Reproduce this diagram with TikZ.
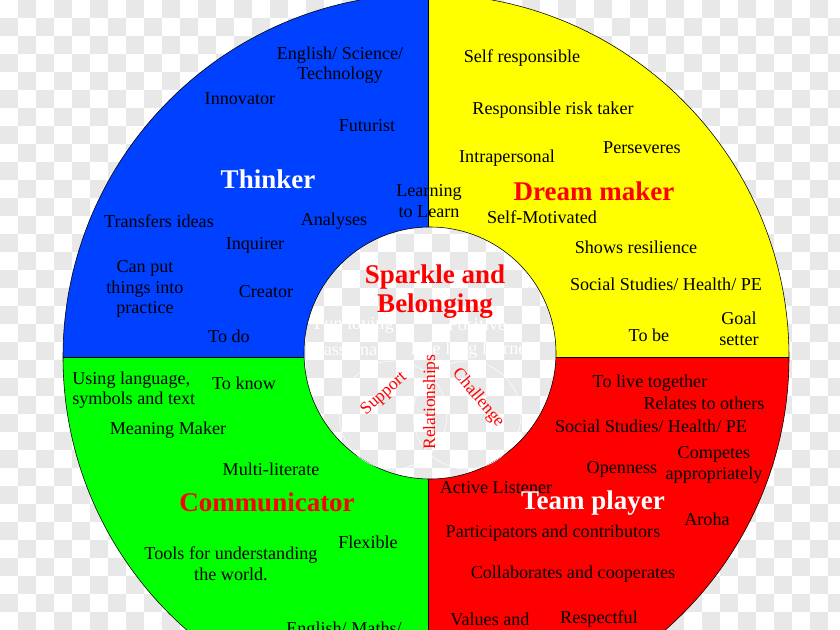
\documentclass[tikz,border=0pt]{standalone}
\usepackage{fontspec}
\setmainfont{Liberation Serif}
\usepackage{tikz}

\definecolor{thinkblue}{RGB}{0,64,255}
\definecolor{dreamyellow}{RGB}{255,255,0}
\definecolor{commgreen}{RGB}{0,255,0}
\definecolor{teamred}{RGB}{255,0,0}
\definecolor{checkgray}{RGB}{232,232,232}

\begin{document}
\begin{tikzpicture}[x=0.025cm,y=-0.025cm,
  txt/.style={font=\fontsize{12.9}{14.6}\selectfont,align=center,inner sep=0pt,yshift=-1.4pt},
  title/.style={font=\fontsize{19.2}{20.5}\selectfont\bfseries,align=center,inner sep=0pt},
  inner/.style={font=\fontsize{12.4}{13}\selectfont,text=teamred,inner sep=0pt},
  faint/.style={font=\fontsize{12.9}{14.6}\selectfont,text=white,inner sep=0pt}]
  \useasboundingbox (0,0) rectangle (840,630);
  \clip (0,0) rectangle (840,630);
  % transparent background
  \fill[white] (0,0) rectangle (840,630);
  \foreach \i in {0,...,46}{
    \foreach \j in {0,...,35}{
      \ifodd\numexpr\i+\j\relax
        \fill[checkgray] (\i*18,\j*18) rectangle +(18,18);
      \fi}}
  % four quarters of the ring
  \begin{scope}
    \clip (0,0) rectangle (428,357);
    \fill[thinkblue,even odd rule] (426,357) circle (363) (430,353) circle (126);
  \end{scope}
  \begin{scope}
    \clip (428,0) rectangle (840,357);
    \fill[dreamyellow,even odd rule] (426,357) circle (363) (430,353) circle (126);
  \end{scope}
  \begin{scope}
    \clip (0,357) rectangle (428,630);
    \fill[commgreen,even odd rule] (426,357) circle (363) (430,353) circle (126);
  \end{scope}
  \begin{scope}
    \clip (428,357) rectangle (840,630);
    \fill[teamred,even odd rule] (426,357) circle (363) (430,353) circle (126);
  \end{scope}
  \draw[thin] (426,357) circle (363);
  \draw[thin] (430,353) circle (126);
  \draw[thin] (428,-10) -- (428,227) (428,479) -- (428,640);
  \draw[thin] (63,357) -- (304,357) (556,357) -- (789,357);
  % faint circles in the middle
  \draw[white,thin] (393,415) circle (54) (467,415) circle (54);

  % Thinker
  \node[txt] (engsci) at (340,63) {English/ Science/\\Technology};
  \node[txt] (innov) at (240,97) {Innovator};
  \node[txt] (futur) at (367,124) {Futurist};
  \node[title,text=white] (thinker) at (268,179) {Thinker};
  \node[txt] (learn) at (429,199) {Learning\\to Learn};
  \node[txt] (transf) at (159,219) {Transfers ideas};
  \node[txt] (analys) at (334,219) {Analyses};
  \node[txt] (inquir) at (255,243) {Inquirer};
  \node[txt] (canput) at (145,287) {Can put\\things into\\practice};
  \node[txt] (creat) at (266,290) {Creator};
  \node[txt] (todo) at (229,334) {To do};

  % Dream maker
  \node[txt] (selfresp) at (522,56) {Self responsible};
  \node[txt] (risk) at (553,108) {Responsible risk taker};
  \node[txt] (persev) at (642,146) {Perseveres};
  \node[txt] (intrap) at (507,156) {Intrapersonal};
  \node[title,text=teamred] (dream) at (594,191) {Dream maker};
  \node[txt] (selfmot) at (542,215) {Self-Motivated};
  \node[txt] (resil) at (636,245) {Shows resilience};
  \node[txt] (sshpe) at (666,282) {Social Studies/ Health/ PE};
  \node[txt] (tobe) at (649,333) {To be};
  \node[txt] (goal) at (739,327) {Goal\\setter};

  % Communicator
  \node[txt,align=left,anchor=west] (usinglang) at (72,388) {Using language,\\symbols and text};
  \node[txt] (toknow) at (244,381) {To know};
  \node[txt] (meaning) at (168,428) {Meaning Maker};
  \node[txt] (multi) at (271,467) {Multi-literate};
  \node[title,text=teamred] (comm) at (267,502) {Communicator};
  \node[txt] (flex) at (368,540) {Flexible};
  \node[txt] (tools) at (231,562) {Tools for understanding\\the world.};
  \node[txt] (engmath) at (344,628) {English/ Maths/};

  % Team player
  \node[txt] (livetog) at (650,381) {To live together};
  \node[txt] (relates) at (704,401) {Relates to others};
  \node[txt] (sshpe2) at (651,424) {Social Studies/ Health/ PE};
  \node[txt] (competes) at (714,463) {Competes\\appropriately};
  \node[txt] (open) at (622,467) {Openness};
  \node[txt] (listen) at (496,486) {Active Listener};
  \node[title,text=white] (team) at (593,503) {Team player};
  \node[txt] (aroha) at (707,517) {Aroha};
  \node[txt] (partic) at (553,531) {Participators and contributors};
  \node[txt] (collab) at (573,572) {Collaborates and cooperates};
  \node[txt] (values) at (490,617) {Values and};
  \node[txt] (respect) at (599,617) {Respectful};

  % Sparkle and Belonging
  \node[title,text=teamred] (sparkle) at (435,292) {Sparkle and\\Belonging};
  \node[faint] (funlov) at (354,325) {Fun loving};
  \node[faint] (posit) at (477,325) {Positive};
  \node[faint] (passion) at (352,350) {Passionate};
  \node[faint] (lifelong) at (475,350) {Life long learners};
  \node[inner,rotate=42] (support) at (384,394) {Support};
  \node[inner,rotate=90] (relat) at (431,402) {Relationships};
  \node[inner,rotate=-50] (chall) at (478,398) {Challenge};
\end{tikzpicture}
\end{document}
